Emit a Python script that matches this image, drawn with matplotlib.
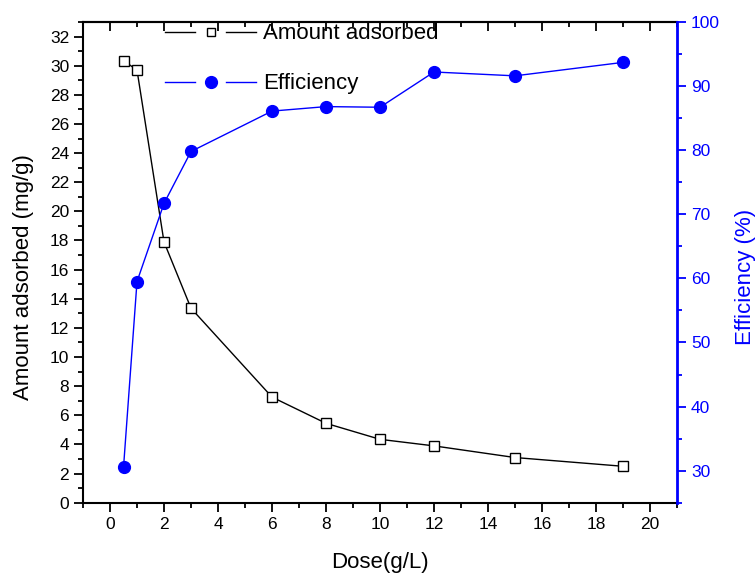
import matplotlib
matplotlib.use("Agg")
import matplotlib.pyplot as plt
from matplotlib.ticker import MultipleLocator
from matplotlib.lines import Line2D
from matplotlib.legend_handler import HandlerBase

plt.rcParams['font.family'] = ['Liberation Sans', 'DejaVu Sans']

# 投与量ごとの吸着量と除去効率
dose = [0.5, 1, 2, 3, 6, 8, 10, 12, 15, 19]
amount = [30.35, 29.7, 17.9, 13.35, 7.25, 5.45, 4.35, 3.9, 3.1, 2.5]
efficiency = [30.5, 59.5, 71.7, 79.8, 86.1, 86.8, 86.7, 92.2, 91.6, 93.7]

BLUE = "#0000ff"


class GapLineHandler(HandlerBase):
    # 凡例の線をマーカーの両側で切って描く
    def create_artists(self, legend, orig_handle, xdescent, ydescent,
                       width, height, fontsize, trans):
        y = (height - ydescent) / 2
        x0 = -xdescent
        seg = 0.33 * width
        left = Line2D([x0, x0 + seg], [y, y])
        right = Line2D([x0 + width - seg, x0 + width], [y, y])
        mark = Line2D([x0 + width / 2], [y])
        for a in (left, right, mark):
            self.update_prop(a, orig_handle, legend)
            a.set_transform(trans)
        left.set_marker("")
        right.set_marker("")
        mark.set_linestyle("none")
        if orig_handle.get_marker() == "s":
            mark.set_markersize(orig_handle.get_markersize() * 0.7)
        return [left, right, mark]


fig = plt.figure(figsize=(7.56, 5.73), dpi=100)
ax = fig.add_axes([0.1098, 0.1227, 0.7857, 0.8389])
ax2 = ax.twinx()

l1, = ax.plot(dose, amount, color="black", lw=1.0, marker="s", ms=7.5,
              mfc="white", mec="black", mew=1.0, label="Amount adsorbed")
l2, = ax2.plot(dose, efficiency, color=BLUE, lw=1.0, marker="o", ms=8.5,
               mfc=BLUE, mec=BLUE, label="Efficiency")

ax.set_xlim(-1, 21)
ax.set_ylim(0, 33)
ax2.set_ylim(25, 100)

ax.xaxis.set_major_locator(MultipleLocator(2))
ax.xaxis.set_minor_locator(MultipleLocator(1))
ax.yaxis.set_major_locator(MultipleLocator(2))
ax.yaxis.set_minor_locator(MultipleLocator(1))
ax2.yaxis.set_minor_locator(MultipleLocator(5))
ax2.set_yticks(range(30, 101, 10))

ax.tick_params(axis="both", which="major", direction="out", length=6.5, width=1.3, labelsize=12.5)
ax.tick_params(axis="both", which="minor", direction="out", length=3.5, width=1.3)
ax2.tick_params(axis="y", which="major", direction="out", length=6.5, width=1.3,
                labelsize=12.5, colors=BLUE)
ax2.tick_params(axis="y", which="minor", direction="out", length=3.5, width=1.3, colors=BLUE)

# 上辺は内向きの目盛り
top = ax.secondary_xaxis("top")
top.xaxis.set_major_locator(MultipleLocator(2))
top.xaxis.set_minor_locator(MultipleLocator(1))
top.tick_params(which="major", direction="in", length=6.5, width=1.3, labeltop=False)
top.tick_params(which="minor", direction="in", length=3.5, width=1.3)

for s in ["left", "bottom", "top"]:
    ax.spines[s].set_linewidth(1.5)
top.spines["top"].set_linewidth(1.5)
ax2.spines["right"].set_color(BLUE)
ax2.spines["right"].set_linewidth(2.0)
ax.spines["right"].set_visible(False)
for s in ["left", "bottom", "top"]:
    ax2.spines[s].set_visible(False)

ax.set_xlabel("Dose(g/L)", fontsize=16, labelpad=15)
ax.set_ylabel("Amount adsorbed (mg/g)", fontsize=16, labelpad=11)
ax2.set_ylabel("Efficiency (%)", fontsize=16, color=BLUE, labelpad=11)
ax.yaxis.label.set_y(0.47)
ax2.yaxis.label.set_y(0.47)

ax.legend([l1, l2], ["Amount adsorbed", "Efficiency"], loc="upper left",
          bbox_to_anchor=(0.138, 0.997), frameon=False, fontsize=16,
          handlelength=4.1, handletextpad=0.3, labelspacing=1.3,
          borderpad=0, borderaxespad=0,
          handler_map={Line2D: GapLineHandler()})

fig.savefig("out.png", dpi=100)
